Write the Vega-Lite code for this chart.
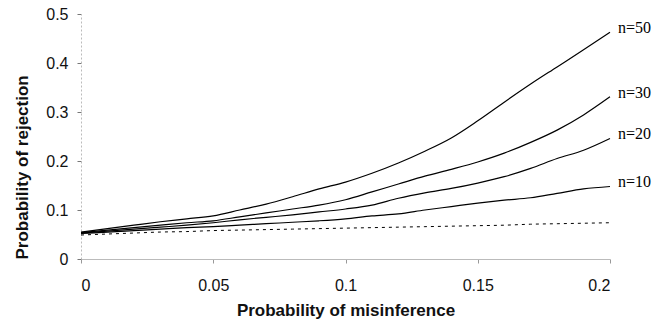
{
  "$schema": "https://vega.github.io/schema/vega-lite/v6.json",
  "width": 529,
  "height": 245,
  "autosize": "none",
  "padding": {"left": 81, "top": 14, "right": 58, "bottom": 67},
  "background": "white",
  "config": {"view": {"stroke": null}},
  "datasets": {
    "curves": [
      {"series":"n=50","x":0,"y":0.055},{"series":"n=50","x":0.01,"y":0.062},{"series":"n=50","x":0.02,"y":0.069},{"series":"n=50","x":0.03,"y":0.076},{"series":"n=50","x":0.04,"y":0.082},{"series":"n=50","x":0.05,"y":0.088},{"series":"n=50","x":0.06,"y":0.100},{"series":"n=50","x":0.07,"y":0.112},{"series":"n=50","x":0.08,"y":0.127},{"series":"n=50","x":0.09,"y":0.143},{"series":"n=50","x":0.10,"y":0.157},{"series":"n=50","x":0.11,"y":0.175},{"series":"n=50","x":0.12,"y":0.196},{"series":"n=50","x":0.13,"y":0.220},{"series":"n=50","x":0.14,"y":0.247},{"series":"n=50","x":0.15,"y":0.282},{"series":"n=50","x":0.16,"y":0.320},{"series":"n=50","x":0.17,"y":0.357},{"series":"n=50","x":0.18,"y":0.392},{"series":"n=50","x":0.19,"y":0.427},{"series":"n=50","x":0.20,"y":0.463},
      {"series":"n=30","x":0,"y":0.054},{"series":"n=30","x":0.01,"y":0.059},{"series":"n=30","x":0.02,"y":0.064},{"series":"n=30","x":0.03,"y":0.069},{"series":"n=30","x":0.04,"y":0.074},{"series":"n=30","x":0.05,"y":0.078},{"series":"n=30","x":0.06,"y":0.086},{"series":"n=30","x":0.07,"y":0.094},{"series":"n=30","x":0.08,"y":0.102},{"series":"n=30","x":0.09,"y":0.110},{"series":"n=30","x":0.10,"y":0.121},{"series":"n=30","x":0.11,"y":0.137},{"series":"n=30","x":0.12,"y":0.153},{"series":"n=30","x":0.13,"y":0.169},{"series":"n=30","x":0.14,"y":0.183},{"series":"n=30","x":0.15,"y":0.198},{"series":"n=30","x":0.16,"y":0.216},{"series":"n=30","x":0.17,"y":0.238},{"series":"n=30","x":0.18,"y":0.263},{"series":"n=30","x":0.19,"y":0.294},{"series":"n=30","x":0.20,"y":0.331},
      {"series":"n=20","x":0,"y":0.053},{"series":"n=20","x":0.01,"y":0.057},{"series":"n=20","x":0.02,"y":0.061},{"series":"n=20","x":0.03,"y":0.065},{"series":"n=20","x":0.04,"y":0.069},{"series":"n=20","x":0.05,"y":0.074},{"series":"n=20","x":0.06,"y":0.080},{"series":"n=20","x":0.07,"y":0.085},{"series":"n=20","x":0.08,"y":0.090},{"series":"n=20","x":0.09,"y":0.096},{"series":"n=20","x":0.10,"y":0.102},{"series":"n=20","x":0.11,"y":0.110},{"series":"n=20","x":0.12,"y":0.124},{"series":"n=20","x":0.13,"y":0.135},{"series":"n=20","x":0.14,"y":0.144},{"series":"n=20","x":0.15,"y":0.155},{"series":"n=20","x":0.16,"y":0.168},{"series":"n=20","x":0.17,"y":0.185},{"series":"n=20","x":0.18,"y":0.205},{"series":"n=20","x":0.19,"y":0.222},{"series":"n=20","x":0.20,"y":0.246},
      {"series":"n=10","x":0,"y":0.052},{"series":"n=10","x":0.01,"y":0.055},{"series":"n=10","x":0.02,"y":0.058},{"series":"n=10","x":0.03,"y":0.061},{"series":"n=10","x":0.04,"y":0.064},{"series":"n=10","x":0.05,"y":0.066},{"series":"n=10","x":0.06,"y":0.069},{"series":"n=10","x":0.07,"y":0.072},{"series":"n=10","x":0.08,"y":0.075},{"series":"n=10","x":0.09,"y":0.078},{"series":"n=10","x":0.10,"y":0.082},{"series":"n=10","x":0.11,"y":0.088},{"series":"n=10","x":0.12,"y":0.092},{"series":"n=10","x":0.13,"y":0.100},{"series":"n=10","x":0.14,"y":0.107},{"series":"n=10","x":0.15,"y":0.114},{"series":"n=10","x":0.16,"y":0.120},{"series":"n=10","x":0.17,"y":0.125},{"series":"n=10","x":0.18,"y":0.134},{"series":"n=10","x":0.19,"y":0.143},{"series":"n=10","x":0.20,"y":0.148}
    ],
    "reference": [
      {"x":0,"y":0.049},{"x":0.01,"y":0.051},{"x":0.02,"y":0.053},{"x":0.03,"y":0.055},{"x":0.04,"y":0.056},{"x":0.05,"y":0.058},{"x":0.06,"y":0.059},{"x":0.07,"y":0.060},{"x":0.08,"y":0.061},{"x":0.09,"y":0.062},{"x":0.10,"y":0.063},{"x":0.11,"y":0.064},{"x":0.12,"y":0.065},{"x":0.13,"y":0.066},{"x":0.14,"y":0.067},{"x":0.15,"y":0.068},{"x":0.16,"y":0.069},{"x":0.17,"y":0.071},{"x":0.18,"y":0.072},{"x":0.19,"y":0.073},{"x":0.20,"y":0.074}
    ]
  },
  "encoding": {
    "x": {
      "field": "x", "type": "quantitative",
      "scale": {"domain": [0, 0.2], "nice": false, "zero": false},
      "axis": {
        "title": "Probability of misinference",
        "values": [0, 0.05, 0.1, 0.15, 0.2],
        "format": "~g",
        "grid": false,
        "domainColor": "#bbbbbb",
        "tickColor": "#999999",
        "tickSize": 4,
        "labelPadding": 14,
        "labelFont": "Liberation Sans",
        "labelFontSize": 16,
        "labelColor": "#111111",
        "titleFont": "Liberation Sans",
        "titleFontWeight": "bold",
        "titleFontSize": 17,
        "titleColor": "#111111",
        "titlePadding": 9
      }
    },
    "y": {
      "field": "y", "type": "quantitative",
      "scale": {"domain": [0, 0.5], "nice": false},
      "axis": {
        "title": "Probability of rejection",
        "titleAnchor": "start",
        "values": [0, 0.1, 0.2, 0.3, 0.4, 0.5],
        "format": "~g",
        "grid": false,
        "domainColor": "#bbbbbb",
        "domainDash": [2, 2],
        "tickColor": "#777777",
        "tickSize": 4,
        "labelPadding": 9,
        "labelFont": "Liberation Sans",
        "labelFontSize": 16,
        "labelColor": "#111111",
        "titleFont": "Liberation Sans",
        "titleFontWeight": "bold",
        "titleFontSize": 17,
        "titleColor": "#111111",
        "titlePadding": 14
      }
    }
  },
  "layer": [
    {
      "data": {"name": "reference"},
      "mark": {"type": "line", "color": "black", "strokeWidth": 1, "strokeDash": [3, 4], "interpolate": "monotone"}
    },
    {
      "data": {"name": "curves"},
      "mark": {"type": "line", "color": "black", "strokeWidth": 1.2, "interpolate": "monotone"},
      "encoding": {"detail": {"field": "series"}}
    },
    {
      "data": {"name": "curves"},
      "transform": [{"filter": "datum.x == 0.2"}],
      "mark": {"type": "text", "align": "left", "baseline": "middle", "dx": 8, "dy": -4, "font": "Liberation Serif", "fontSize": 16, "color": "black"},
      "encoding": {"text": {"field": "series"}}
    }
  ]
}
